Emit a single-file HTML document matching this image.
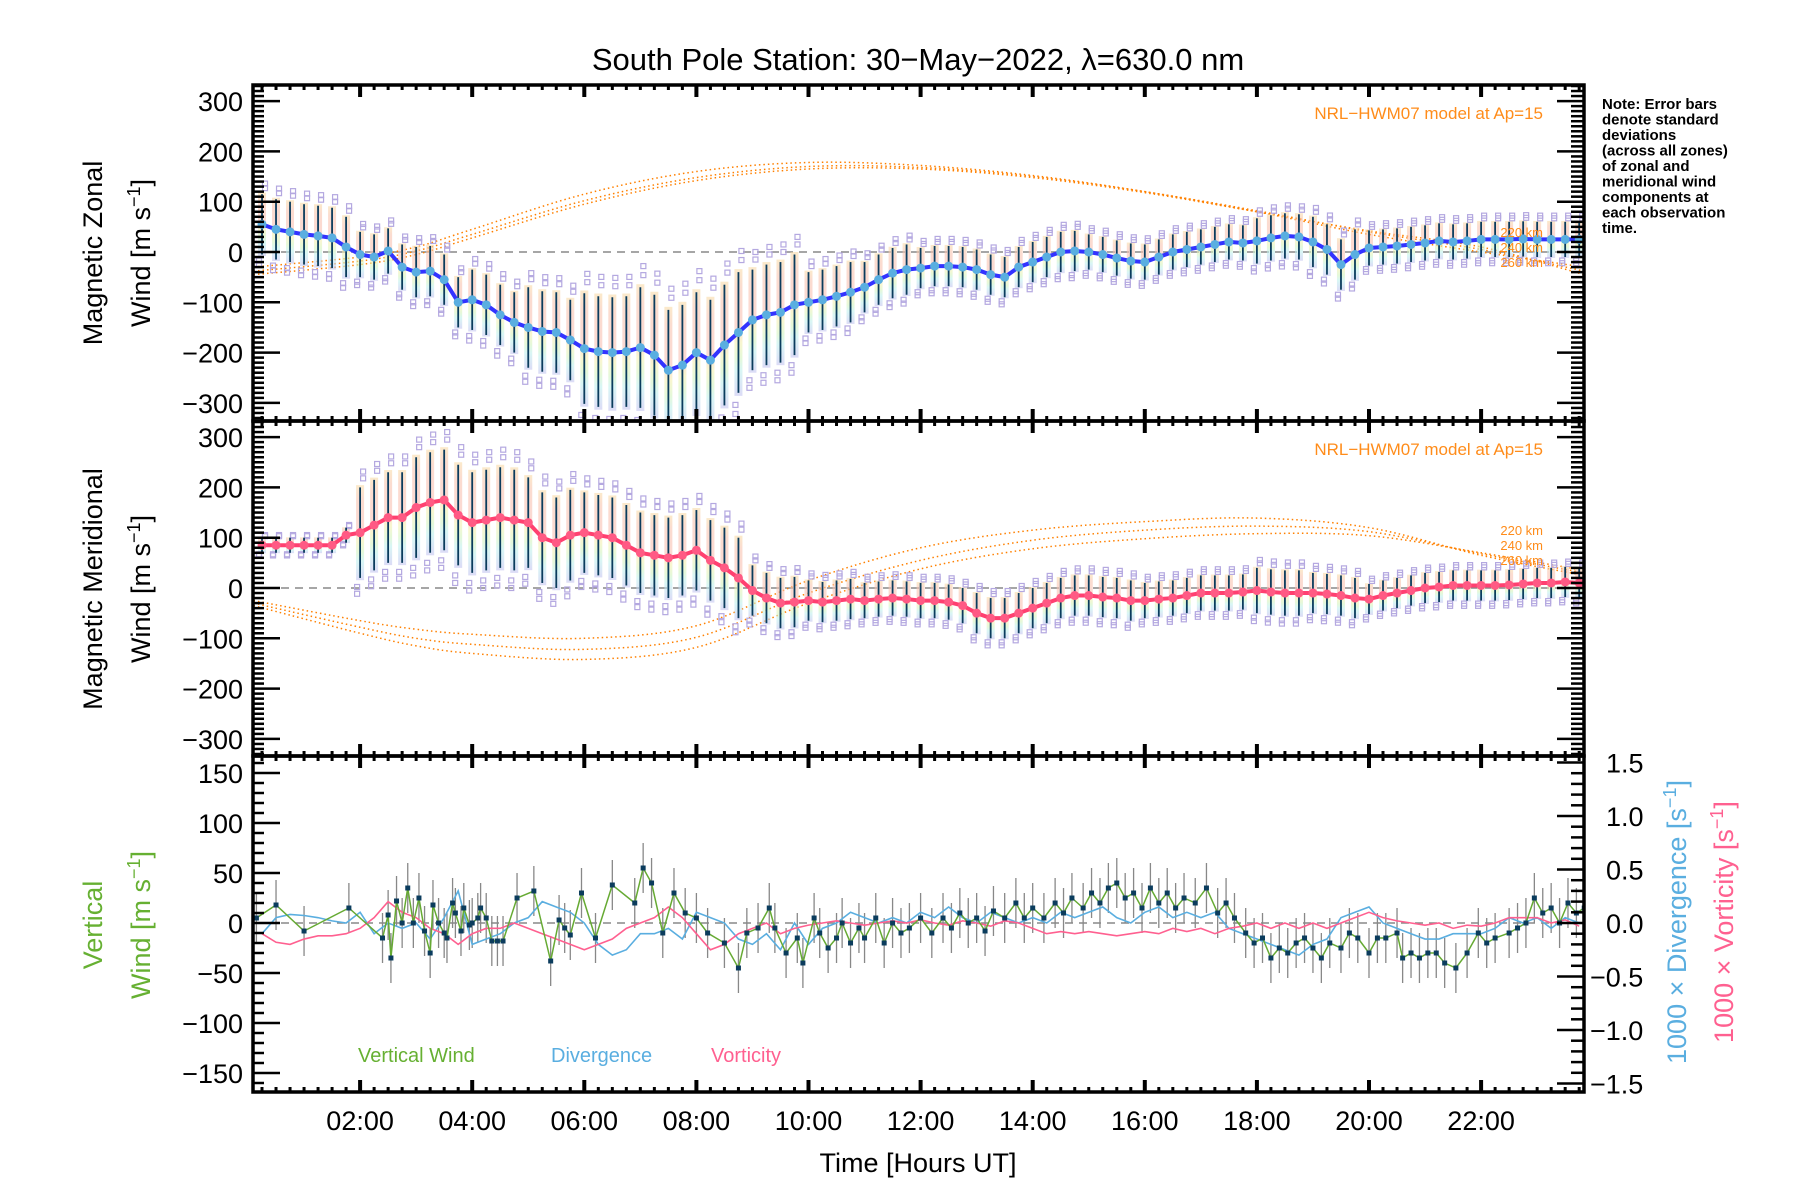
<!DOCTYPE html>
<html><head><meta charset="utf-8"><title>South Pole Station winds</title>
<style>
html,body{margin:0;padding:0;background:#fff;}
svg{display:block;font-family:"Liberation Sans",sans-serif;}
</style></head>
<body>
<svg id="chart" width="1800" height="1200" viewBox="0 0 1800 1200" xmlns="http://www.w3.org/2000/svg">
<defs>
<linearGradient id="band" x1="0" y1="0" x2="0" y2="1">
<stop offset="0" stop-color="#f8dca8"/>
<stop offset="0.15" stop-color="#f8c4b0"/>
<stop offset="0.45" stop-color="#f8c0b4"/>
<stop offset="0.58" stop-color="#f4f0b0"/>
<stop offset="0.7" stop-color="#d4f4c0"/>
<stop offset="0.8" stop-color="#bff0ee"/>
<stop offset="1" stop-color="#c4c4f0"/>
</linearGradient>
<clipPath id="clip1"><rect x="253" y="85" width="1331" height="336"/></clipPath>
<clipPath id="clip2"><rect x="253" y="421" width="1331" height="335"/></clipPath>
<clipPath id="clip3"><rect x="253" y="756" width="1331" height="336"/></clipPath>
</defs>
<text x="918" y="70" font-size="31" text-anchor="middle">South Pole Station: 30−May−2022, λ=630.0 nm</text>
<g id="g1" clip-path="url(#clip1)"></g>
<g id="g2" clip-path="url(#clip2)"></g>
<g id="g3" clip-path="url(#clip3)"></g>
<g id="axes"></g>
<text transform="translate(102,253) rotate(-90)" font-size="27" text-anchor="middle">Magnetic Zonal</text>
<text transform="translate(150,253) rotate(-90)" font-size="27" text-anchor="middle">Wind [m s<tspan dy="-10" font-size="18">−1</tspan><tspan dy="10">]</tspan></text>
<text transform="translate(102,589) rotate(-90)" font-size="27" text-anchor="middle">Magnetic Meridional</text>
<text transform="translate(150,589) rotate(-90)" font-size="27" text-anchor="middle">Wind [m s<tspan dy="-10" font-size="18">−1</tspan><tspan dy="10">]</tspan></text>
<text transform="translate(102,925) rotate(-90)" font-size="27" text-anchor="middle" fill="#66b032">Vertical</text>
<text transform="translate(150,925) rotate(-90)" font-size="27" text-anchor="middle" fill="#66b032">Wind [m s<tspan dy="-10" font-size="18">−1</tspan><tspan dy="10">]</tspan></text>
<text transform="translate(1686,922) rotate(-90)" font-size="27" text-anchor="middle" fill="#5aaee0">1000 × Divergence [s<tspan dy="-10" font-size="18">−1</tspan><tspan dy="10">]</tspan></text>
<text transform="translate(1733,922) rotate(-90)" font-size="27" text-anchor="middle" fill="#ff6090">1000 × Vorticity [s<tspan dy="-10" font-size="18">−1</tspan><tspan dy="10">]</tspan></text>
<text x="918" y="1172" font-size="27" text-anchor="middle">Time [Hours UT]</text>
<text x="1543" y="119" font-size="17" text-anchor="end" fill="#ff8c1a">NRL−HWM07 model at Ap=15</text>
<text x="1543" y="455" font-size="17" text-anchor="end" fill="#ff8c1a">NRL−HWM07 model at Ap=15</text>
<g font-size="13" fill="#ff8c1a" text-anchor="end">
<text x="1543" y="237">220 km</text>
<text x="1543" y="252">240 km</text>
<text x="1543" y="267">260 km</text>
</g>
<g font-size="13" fill="#ff8c1a" text-anchor="end">
<text x="1543" y="535">220 km</text>
<text x="1543" y="550">240 km</text>
<text x="1543" y="565">260 km</text>
</g>
<g font-size="15" font-weight="bold">
<text x="1602" y="109">Note: Error bars</text>
<text x="1602" y="124.5">denote standard</text>
<text x="1602" y="140">deviations</text>
<text x="1602" y="155.5">(across all zones)</text>
<text x="1602" y="171">of zonal and</text>
<text x="1602" y="186.5">meridional wind</text>
<text x="1602" y="202">components at</text>
<text x="1602" y="217.5">each observation</text>
<text x="1602" y="233">time.</text>
</g>
<text x="358" y="1062" font-size="20" fill="#66b032">Vertical Wind</text>
<text x="551" y="1062" font-size="20" fill="#5aaee0">Divergence</text>
<text x="711" y="1062" font-size="20" fill="#ff6090">Vorticity</text>
</svg>
<script>
// ---- data ----
const zonalMean = [55,45,40,35,32,28,10,-5,-10,2,-30,-40,-38,-55,-100,-95,-105,-125,-140,-150,-158,-160,-175,-192,-198,-200,-198,-190,-205,-235,-225,-200,-215,-185,-160,-135,-125,-120,-105,-100,-95,-88,-80,-70,-55,-42,-35,-32,-28,-28,-30,-35,-45,-50,-30,-20,-10,0,2,0,-5,-12,-18,-20,-10,0,5,10,15,20,18,22,28,32,30,20,5,-25,-5,8,10,12,15,18,22,20,22,25,25,25,26,25,25,25,25];
const meridMean = [85,85,85,85,85,85,105,110,125,140,140,160,170,175,145,130,135,140,135,130,100,90,105,110,105,100,85,70,65,60,65,75,55,40,20,-5,-20,-30,-28,-25,-28,-25,-22,-25,-22,-20,-22,-25,-25,-28,-35,-50,-60,-60,-50,-40,-30,-20,-15,-15,-18,-20,-25,-25,-22,-20,-15,-10,-10,-10,-8,-5,-8,-10,-10,-10,-12,-15,-20,-22,-15,-10,-5,0,2,5,5,5,5,6,8,10,10,12,10];
const zonalStdHourly = [60,60,45,50,60,80,110,120,120,100,60,50,40,40,40,35,35,35,45,50,35,35,35,35];
const meridStdHourly = [15,15,90,100,100,90,80,80,80,50,40,35,35,40,40,40,35,35,45,40,30,30,30,30];
const modelHours = [0.1,2,3,4,6,8,10,12,14,16,18,20,22,23.84];
const zonalModel220 = [-30,-10,10,45,115,160,178,172,152,120,80,35,0,-30];
const zonalModel240 = [-38,-18,2,35,102,148,170,168,150,120,82,40,5,-38];
const zonalModel260 = [-45,-25,-5,28,95,142,165,165,148,118,80,42,10,-45];
const meridModel220 = [-25,-65,-82,-92,-100,-75,15,80,115,132,139,120,65,25];
const meridModel240 = [-30,-78,-100,-112,-122,-98,-10,55,95,115,123,112,68,30];
const meridModel260 = [-35,-90,-115,-130,-142,-118,-30,38,78,98,108,104,70,35];
const vwHours = [0.15,0.5,1.0,1.8,2.4,2.5,2.55,2.65,2.75,2.85,2.95,3.05,3.15,3.25,3.3,3.4,3.5,3.55,3.65,3.7,3.8,3.85,3.95,4.0,4.1,4.15,4.25,4.35,4.45,4.55,4.8,5.1,5.4,5.55,5.65,5.75,5.95,6.2,6.5,6.9,7.05,7.2,7.4,7.6,7.8,8.0,8.2,8.5,8.75,8.9,9.1,9.3,9.4,9.6,9.8,9.9,10.1,10.2,10.35,10.5,10.6,10.75,10.9,11.0,11.2,11.35,11.5,11.65,11.8,12.0,12.2,12.4,12.55,12.7,12.85,13.0,13.15,13.3,13.5,13.7,13.85,14.0,14.2,14.4,14.55,14.7,14.9,15.05,15.2,15.35,15.5,15.65,15.8,15.95,16.1,16.25,16.4,16.55,16.7,16.9,17.1,17.3,17.45,17.6,17.8,17.95,18.1,18.25,18.4,18.55,18.7,18.85,19.0,19.15,19.3,19.5,19.65,19.8,20.0,20.15,20.3,20.5,20.6,20.75,20.9,21.05,21.2,21.35,21.55,21.75,21.95,22.1,22.25,22.5,22.65,22.8,22.95,23.1,23.25,23.4,23.55,23.7,23.84];
const vwValues = [5,18,-8,15,-15,8,-35,22,0,35,0,25,-8,-30,18,0,-10,-15,20,10,-8,15,-2,0,5,15,5,-18,-18,-18,25,32,-38,3,-5,-12,30,-15,38,20,55,40,-10,30,10,5,-10,-20,-45,-10,-5,15,-5,-30,-15,-40,5,-10,-25,-15,0,-20,-5,-15,5,-20,0,-10,-5,5,-10,5,-5,10,0,5,-8,12,5,20,5,15,5,20,10,25,15,30,20,35,40,25,30,15,35,20,30,15,25,20,35,10,20,5,-10,-20,-15,-35,-25,-30,-20,-15,-25,-35,-20,-25,-10,-15,-30,-15,-15,-10,-35,-30,-35,-30,-30,-40,-45,-30,-10,-20,-15,-10,-5,0,25,10,15,0,20,10,15];
const divergence = [-0.1,0.05,0.08,0.07,0.05,0.02,0.0,0.1,-0.1,0.0,-0.05,0.0,-0.15,0.05,0.3,-0.2,-0.15,-0.1,0.0,0.05,0.2,0.15,0.1,0.0,-0.2,-0.3,-0.25,-0.1,-0.1,-0.05,-0.15,0.1,0.05,0.0,-0.15,-0.2,-0.1,-0.25,0.0,-0.2,-0.05,0.0,0.1,0.05,0.0,0.05,0.0,0.1,0.05,0.15,0.05,0.0,0.1,0.05,0.0,0.05,0.0,0.1,0.05,0.1,0.15,0.05,0.0,0.1,0.15,0.05,0.1,0.05,0.1,-0.05,-0.1,-0.15,-0.2,-0.25,-0.3,-0.2,-0.15,0.05,0.1,0.15,0.0,-0.05,-0.1,-0.15,-0.15,-0.1,-0.1,-0.1,-0.05,0.05,0.0,0.05,-0.05,0.05,0.0];
const vorticity = [-0.1,-0.18,-0.2,-0.15,-0.12,-0.12,-0.1,-0.05,0.05,0.2,0.1,0.05,-0.05,-0.1,-0.2,-0.1,-0.05,-0.05,0.0,-0.05,-0.1,-0.15,-0.2,-0.25,-0.2,-0.15,-0.05,0.0,0.05,0.15,0.05,-0.1,-0.25,-0.2,-0.1,-0.05,0.0,-0.1,-0.05,-0.02,0.0,0.02,0.0,-0.02,0.0,0.02,0.0,0.03,0.0,-0.02,0.02,0.0,-0.03,0.02,0.0,-0.05,-0.1,-0.08,-0.1,-0.08,-0.1,-0.12,-0.1,-0.08,-0.1,-0.05,-0.08,-0.05,-0.1,-0.05,-0.03,0.0,-0.05,0.0,-0.05,0.0,-0.05,0.0,0.05,0.1,0.05,0.02,0.0,-0.02,0.0,-0.05,-0.02,-0.03,0.0,0.05,0.05,0.05,0.0,0.03,-0.03];
const xTickLabels = ["02:00","04:00","06:00","08:00","10:00","12:00","14:00","16:00","18:00","20:00","22:00"];
const windTickLabels = ["300","200","100","0","−100","−200","−300"];
const vertTickLabels = ["150","100","50","0","−50","−100","−150"];
const ratioTickLabels = ["1.5","1.0","0.5","0.0","−0.5","−1.0","−1.5"];

// ---- scales ----
const L=253,R=1584;
const X = t => 248 + t*56.05;
const Y1 = v => 252 - v*0.503;
const Y2 = v => 588 - v*0.503;
const Y3 = v => 923 - v*1.0;
const YR = v => 923 - v*107;
const gridHours = zonalMean.map((_, i) => 0.25*(i+1));
const NS="http://www.w3.org/2000/svg";
function mk(tag, attrs, parent){const e=document.createElementNS(NS,tag);for(const k in attrs)e.setAttribute(k,attrs[k]);parent.appendChild(e);return e;}
const g1=document.getElementById('g1'),g2=document.getElementById('g2'),g3=document.getElementById('g3'),ax=document.getElementById('axes');

function windPanel(g, Y, mean, stdH, model, lineCol, dotCol, prefix){
  let z=mk('line',{x1:L,x2:R,y1:Y(0),y2:Y(0),stroke:'#888','stroke-width':1.5,'stroke-dasharray':'8,6'},g);
  
  
  model.forEach((arr, k)=>{
    let d='';
    for(let i=0;i<arr.length-1;i++){
      const t0=modelHours[i],t1=modelHours[i+1];
      if(i===0) d+='M'+X(t0)+','+Y(arr[i]);
      const tp=modelHours[Math.max(i-1,0)],tn=modelHours[Math.min(i+2,arr.length-1)];
      const vp=arr[Math.max(i-1,0)],vn=arr[Math.min(i+2,arr.length-1)];
      const c1x=X(t0)+(X(t1)-X(tp))/6,c1y=Y(arr[i])+(Y(arr[i+1])-Y(vp))/6;
      const c2x=X(t1)-(X(tn)-X(t0))/6,c2y=Y(arr[i+1])-(Y(vn)-Y(arr[i]))/6;
      d+=' C'+c1x+','+c1y+' '+c2x+','+c2y+' '+X(t1)+','+Y(arr[i+1]);
    }
    const p=mk('path',{d:d,fill:'none',stroke:'#ff8000','stroke-width':1.5,'stroke-dasharray':'1.5,3'},g);
    
    
  });
  mean.forEach((v,i)=>{
    const t=gridHours[i], s=stdH[Math.min(23,Math.floor(t))];
    const b=mk('rect',{x:X(t)-4,y:Y(v+s*1.05),width:8,height:Y(v-s*1.05)-Y(v+s*1.05),fill:'url(#band)',opacity:0.6},g);
    
    
    [1.2,1.35,-1.2,-1.35].forEach(f=>{
      const q=mk('rect',{x:X(t)-2.5+(f>0?3:-3),y:Y(v+s*f)-2.5,width:5,height:5,fill:'none',stroke:'#b4a8e0','stroke-width':1.2},g);
      
      
    });
    const e=mk('line',{x1:X(t),x2:X(t),y1:Y(v+s),y2:Y(v-s),stroke:'#0b3c5d','stroke-width':1.8},g);
    
    
  });
  const pl=mk('polyline',{points:mean.map((v,i)=>X(gridHours[i])+','+Y(v)).join(' '),fill:'none',stroke:lineCol,'stroke-width':4},g);
  
  
  mean.forEach((v,i)=>{
    const c=mk('circle',{cx:X(gridHours[i]),cy:Y(v),r:4.5,fill:dotCol},g);
    
    
  });
}
windPanel(g1,Y1,zonalMean,zonalStdHourly,[zonalModel220,zonalModel240,zonalModel260],'#3333ff','#5aaee0','zonal');
windPanel(g2,Y2,meridMean,meridStdHourly,[meridModel220,meridModel240,meridModel260],'#ff4070','#ff5a84','meridional');

let z3=mk('line',{x1:L,x2:R,y1:Y3(0),y2:Y3(0),stroke:'#888','stroke-width':1.5,'stroke-dasharray':'8,6'},g3);


vwValues.forEach((v,i)=>{
  const e=mk('line',{x1:X(vwHours[i]),x2:X(vwHours[i]),y1:Y3(v+25),y2:Y3(v-25),stroke:'#888','stroke-width':1.3},g3);
  
  
});
const dl=mk('polyline',{points:divergence.map((v,i)=>X(gridHours[i])+','+YR(v)).join(' '),fill:'none',stroke:'#5aaee0','stroke-width':1.6},g3);


const vl=mk('polyline',{points:vorticity.map((v,i)=>X(gridHours[i])+','+YR(v)).join(' '),fill:'none',stroke:'#ff6090','stroke-width':1.6},g3);


const wl=mk('polyline',{points:vwValues.map((v,i)=>X(vwHours[i])+','+Y3(v)).join(' '),fill:'none',stroke:'#66aa33','stroke-width':1.5},g3);


vwValues.forEach((v,i)=>{
  const p=mk('rect',{x:X(vwHours[i])-2.5,y:Y3(v)-2.5,width:5,height:5,fill:'#0b3c5d'},g3);
  
  
});

const panels=[[85,421],[421,756],[756,1092]];
panels.forEach(([top,bot],pi)=>{
  const fr=mk('rect',{x:L,y:top,width:R-L,height:bot-top,fill:'none',stroke:'#000','stroke-width':3.5},ax);
  
  
  for(let t=0.25;t<23.9;t+=0.25){
    const major=Math.abs(t/2-Math.round(t/2))<1e-6;
    const len=major?12:5, w=major?4:3;
    mk('line',{x1:X(t),x2:X(t),y1:top,y2:top+len,stroke:'#000','stroke-width':w},ax);
    mk('line',{x1:X(t),x2:X(t),y1:bot,y2:bot-len,stroke:'#000','stroke-width':w},ax);
  }
});
function yTicks(Y,lo,hi,minor,major,top,bot,left,right){
  for(let v=lo;v<=hi+1e-9;v+=minor){
    const y=Y(v); if(y<top-0.5||y>bot+0.5) continue;
    const isM=Math.abs(v/major-Math.round(v/major))<1e-6;
    if(left) mk('line',{x1:L,x2:L+(isM?27:11),y1:y,y2:y,stroke:'#000','stroke-width':2.5},ax);
    if(right) mk('line',{x1:R,x2:R-(isM?27:13),y1:y,y2:y,stroke:'#000','stroke-width':2.5},ax);
  }
}
yTicks(Y1,-340,340,10,100,85,421,true,true);
yTicks(Y2,-340,340,10,100,421,756,true,true);
yTicks(Y3,-170,170,10,50,756,1092,true,false);
yTicks(YR,-1.6,1.6,0.1,0.5,756,1092,false,true);

function label(x,y,txt,anchor,name){
  const t=mk('text',{x:x,y:y,'font-size':27,'text-anchor':anchor},ax);
  t.textContent=txt;
  
  
}
windTickLabels.forEach((s,i)=>{ const v=300-100*i; label(243,Y1(v)+10,s,'end','zonal-y-tick-label'); label(243,Y2(v)+10,s,'end','meridional-y-tick-label'); });
vertTickLabels.forEach((s,i)=>{ const v=150-50*i; label(243,Y3(v)+10,s,'end','vertical-y-tick-label'); });
ratioTickLabels.forEach((s,i)=>{ const v=1.5-0.5*i; label(s.startsWith('−')?1590:1606,YR(v)+10,s,'start','ratio-y-tick-label'); });
xTickLabels.forEach((s,i)=>{ label(X(2+2*i),1130,s,'middle','x-tick-label'); });
</script>
</body></html>
